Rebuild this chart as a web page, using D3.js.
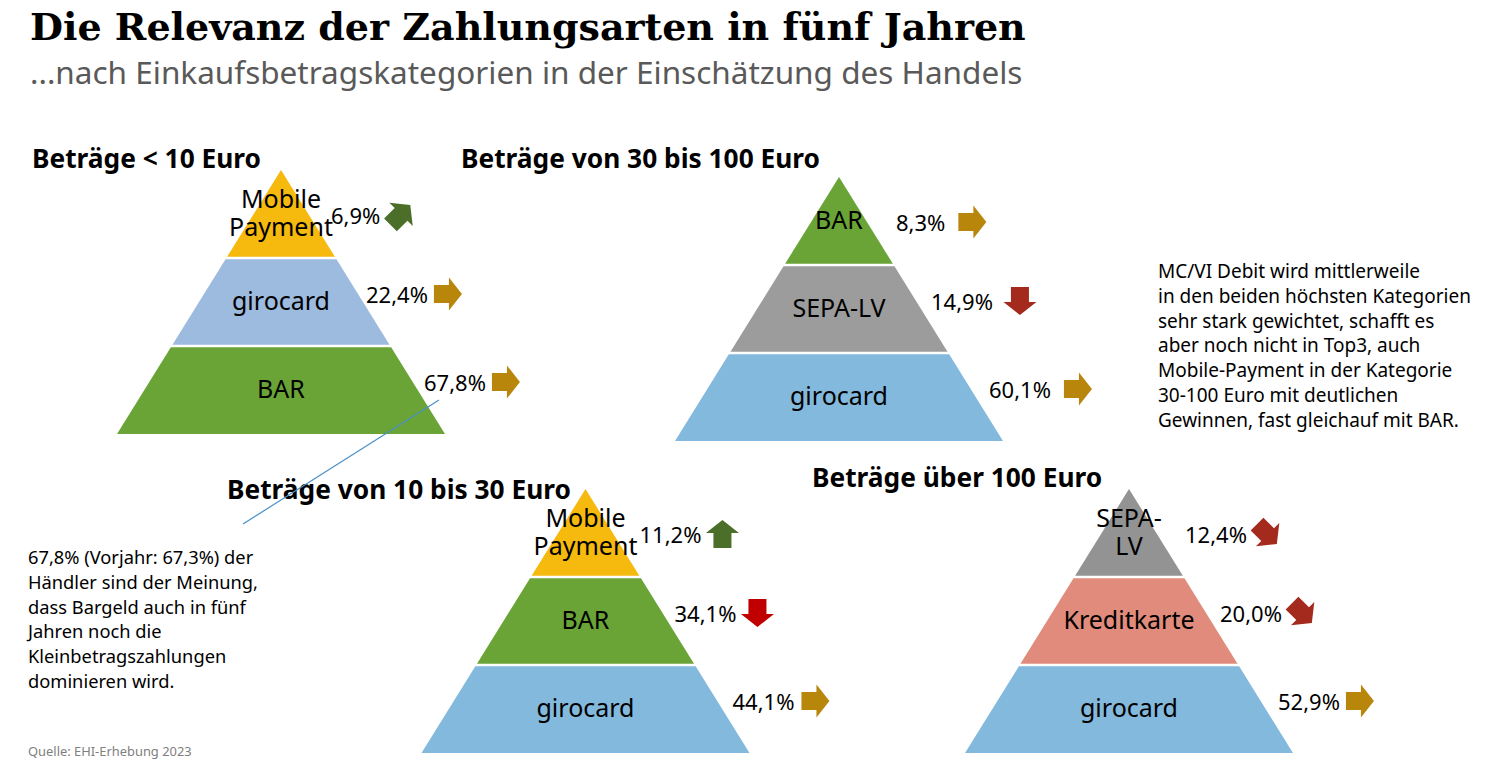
<!DOCTYPE html>
<html>
<head>
<meta charset="utf-8">
<script src="https://cdn.jsdelivr.net/npm/d3@7"></script>
<style>
  body { margin: 0; background: #fff; }
  svg { display: block; }
</style>
</head>
<body>
<div id="chart"></div>
<script>
// data
var groupTitles = ["Beträge < 10 Euro", "Beträge von 30 bis 100 Euro", "Beträge von 10 bis 30 Euro", "Beträge über 100 Euro"];
var tierNames = [
  ["Mobile\nPayment", "girocard", "BAR"],
  ["BAR", "SEPA-LV", "girocard"],
  ["Mobile\nPayment", "BAR", "girocard"],
  ["SEPA-\nLV", "Kreditkarte", "girocard"]
];
var shares = [
  [6.9, 22.4, 67.8],
  [8.3, 14.9, 60.1],
  [11.2, 34.1, 44.1],
  [12.4, 20.0, 52.9]
];
var trends = [
  ["up-right", "right", "right"],
  ["right", "down", "right"],
  ["up", "down", "right"],
  ["down-right", "down-right", "right"]
];
var noteLeft = ["67,8% (Vorjahr: 67,3%) der", "Händler sind der Meinung,", "dass Bargeld auch in fünf", "Jahren noch die", "Kleinbetragszahlungen", "dominieren wird."];
var noteRight = ["MC/VI Debit wird mittlerweile", "in den beiden höchsten Kategorien", "sehr stark gewichtet, schafft es", "aber noch nicht in Top3, auch", "Mobile-Payment in der Kategorie", "30-100 Euro mit deutlichen", "Gewinnen, fast gleichauf mit BAR."];

// styles
var tierColors = [
  ["#F6B90E", "#9DBADF", "#6AA437"],
  ["#6AA437", "#9C9C9C", "#83B9DC"],
  ["#F6B90E", "#6AA437", "#83B9DC"],
  ["#939393", "#E08B7C", "#83B9DC"]
];
var trendColors = [
  { "up-right": "#4B6E29", right: "#B8860B" },
  { right: "#B8860B", down: "#A52A1E" },
  { up: "#4B6E29", down: "#C00000", right: "#B8860B" },
  { "down-right": "#A52A1E", right: "#B8860B" }
];
var trendAngle = { right: 0, "up-right": -45, up: -90, "down-right": 45, down: 90 };

// layout
var W = 1487, H = 774;
var apex = [[281, 170], [839, 177], [585.5, 489], [1129, 489]];
var titlePos = [[32, 168], [461, 168], [227, 499], [812, 487]];
var pyrW = 328, pyrH = 264;
var pctDx = [54, 89, 147], pctDy = [54, 133, 221];
var pctNudge = [-4, 3, 0, 2];
var arrowGap = [20, 27, 21, 20];

var sans = "'Segoe UI', 'Noto Sans', sans-serif";
var fmt = d3.formatLocale({ decimal: ",", thousands: ".", grouping: [3], currency: ["", "€"] }).format(".1f");

var svg = d3.select("#chart").append("svg")
  .attr("width", W)
  .attr("height", H);

// header
svg.append("text")
  .attr("x", 30).attr("y", 40)
  .style("font-family", "'DejaVu Serif', serif")
  .style("font-weight", "bold")
  .style("font-size", "38px")
  .attr("fill", "#000")
  .text("Die Relevanz der Zahlungsarten in fünf Jahren");

svg.append("text")
  .attr("x", 30).attr("y", 84)
  .style("font-family", sans)
  .style("font-size", "31.5px")
  .attr("fill", "#595959")
  .text("...nach Einkaufsbetragskategorien in der Einschätzung des Handels");

var arrowPath = "M-14,-9L1,-9L1,-16.5L14,0L1,16.5L1,9L-14,9Z";
var pctNodes = [];

groupTitles.forEach(function (title, g) {
  var ax = apex[g][0], ay = apex[g][1];
  var y = d3.scaleLinear().domain([0, 3]).range([ay, ay + pyrH]);
  var half = d3.scaleLinear().domain([ay, ay + pyrH]).range([0, pyrW / 2]);

  var grp = svg.append("g");

  grp.append("text")
    .attr("x", titlePos[g][0]).attr("y", titlePos[g][1])
    .style("font-family", sans)
    .style("font-weight", "bold")
    .style("font-size", "26.3px")
    .text(title);

  var tiers = tierNames[g].map(function (name, i) {
    return { name: name, value: shares[g][i], trend: trends[g][i], i: i };
  });

  // tiers with a thin white gap between them
  grp.selectAll("path.tier")
    .data(tiers)
    .enter()
    .append("path")
      .attr("class", "tier")
      .attr("d", function (d) {
        var y0 = y(d.i) + (d.i > 0 ? 1.3 : 0);
        var y1 = y(d.i + 1) - (d.i < 2 ? 1.3 : 0);
        return "M" + (ax - half(y0)) + "," + y0 +
               "L" + (ax + half(y0)) + "," + y0 +
               "L" + (ax + half(y1)) + "," + y1 +
               "L" + (ax - half(y1)) + "," + y1 + "Z";
      })
      .attr("fill", function (d) { return tierColors[g][d.i]; });

  // names inside
  grp.selectAll("text.name")
    .data(tiers)
    .enter()
    .append("text")
      .attr("class", "name")
      .attr("text-anchor", "middle")
      .style("font-family", sans)
      .style("font-size", "25px")
      .attr("fill", "#000")
      .each(function (d) {
        var lines = d.name.split("\n");
        var mid = (y(d.i) + y(d.i + 1)) / 2;
        var first = mid + 8 - (lines.length - 1) * 14;
        d3.select(this).selectAll("tspan")
          .data(lines)
          .enter()
          .append("tspan")
            .attr("x", ax)
            .attr("y", function (l, k) { return first + k * 28; })
            .text(function (l) { return l; });
      });

  // percentages and trend arrows
  tiers.forEach(function (d) {
    var px = ax + pctDx[d.i] + pctNudge[g];
    var py = ay + pctDy[d.i];
    var t = grp.append("text")
      .attr("x", px).attr("y", py)
      .style("font-family", sans)
      .style("font-size", "22px")
      .attr("fill", "#000")
      .text(fmt(d.value) + "%");
    if (g === 0 && d.i === 2) pctNodes.push([px, py]);
    var tw = t.node().getComputedTextLength();
    grp.append("path")
      .attr("d", arrowPath)
      .attr("transform", "translate(" + (px + tw + arrowGap[g]) + "," + (py - 9) + ") rotate(" + trendAngle[d.trend] + ")")
      .attr("fill", trendColors[g][d.trend]);
  });
});

// notes
svg.append("text")
  .style("font-family", sans)
  .style("font-size", "18.3px")
  .attr("fill", "#000")
  .selectAll("tspan")
  .data(noteLeft)
  .enter()
  .append("tspan")
    .attr("x", 28)
    .attr("y", function (d, i) { return 564 + i * 24.8; })
    .text(function (d) { return d; });

svg.append("text")
  .style("font-family", sans)
  .style("font-size", "19px")
  .attr("fill", "#000")
  .selectAll("tspan")
  .data(noteRight)
  .enter()
  .append("tspan")
    .attr("x", 1158)
    .attr("y", function (d, i) { return 278 + i * 24.8; })
    .text(function (d) { return d; });

svg.append("text")
  .attr("x", 28).attr("y", 756)
  .style("font-family", sans)
  .style("font-size", "12.9px")
  .attr("fill", "#7f7f7f")
  .text("Quelle: EHI-Erhebung 2023");

// connector from the 67,8% label to the note
var p = pctNodes[0];
svg.append("line")
  .attr("x1", p[0] + 15).attr("y1", p[1] + 9)
  .attr("x2", 243).attr("y2", 524)
  .attr("stroke", "#4A90C8")
  .attr("stroke-width", 1.2);
</script>
</body>
</html>
